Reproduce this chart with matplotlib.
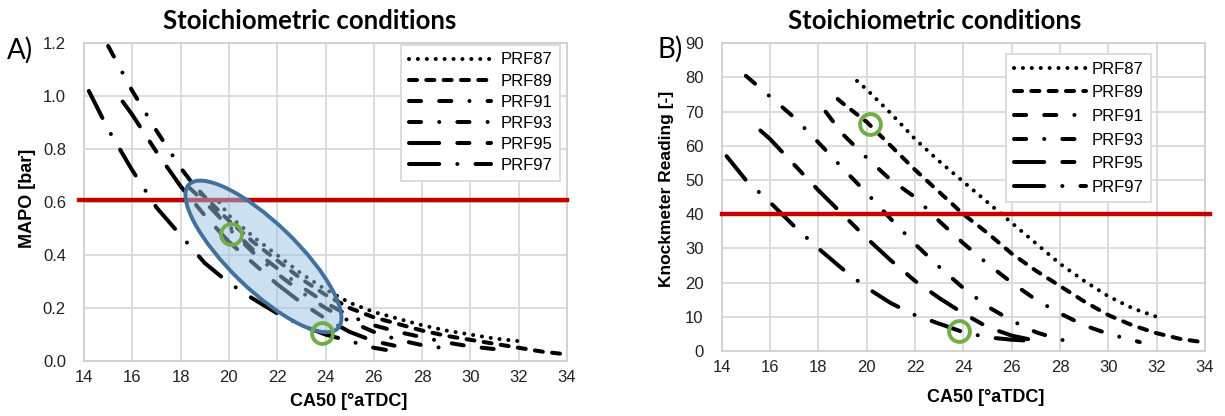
import numpy as np
import matplotlib.pyplot as plt
from matplotlib.patches import Ellipse
from matplotlib.transforms import ScaledTranslation

plt.rcParams['font.family'] = 'Liberation Sans'

W, H = 1225, 416

fuels = ['PRF87', 'PRF89', 'PRF91', 'PRF93', 'PRF95', 'PRF97']

# CA50 sweep per fuel [deg aTDC]
ca50 = {
    'PRF87': [19.6, 20, 21, 22, 23, 24, 25, 26, 27, 28, 29, 30, 31, 32],
    'PRF89': [18.8, 19, 20, 21, 22, 23, 24, 25, 26, 27, 28, 29, 30, 31, 32, 33, 34],
    'PRF91': [18.3, 19, 20, 21, 22, 23, 24, 25, 26, 27, 28, 29, 30, 31, 31.3],
    'PRF93': [15, 16, 17, 18, 19, 20, 21, 22, 23, 24, 25, 26, 27, 28, 28.8],
    'PRF95': [15.6, 16, 17, 18, 19, 20, 21, 22, 23, 24, 25, 26, 27, 27.4],
    'PRF97': [14.2, 15, 16, 17, 18, 19, 20, 21, 22, 23, 24, 25, 26, 26.5],
}

# MAPO [bar]
mapo = {
    'PRF87': [0.60, 0.55, 0.47, 0.40, 0.33, 0.27, 0.22, 0.185, 0.16, 0.135, 0.115, 0.10, 0.085, 0.075],
    'PRF89': [0.64, 0.62, 0.53, 0.45, 0.38, 0.31, 0.25, 0.20, 0.165, 0.14, 0.115, 0.095, 0.08, 0.065, 0.05, 0.035, 0.025],
    'PRF91': [0.66, 0.60, 0.51, 0.42, 0.35, 0.28, 0.22, 0.17, 0.135, 0.11, 0.09, 0.07, 0.055, 0.045, 0.04],
    'PRF93': [1.19, 1.02, 0.87, 0.73, 0.61, 0.50, 0.41, 0.33, 0.26, 0.20, 0.15, 0.11, 0.08, 0.06, 0.05],
    'PRF95': [0.98, 0.93, 0.79, 0.66, 0.55, 0.45, 0.37, 0.29, 0.22, 0.16, 0.11, 0.075, 0.055, 0.05],
    'PRF97': [1.02, 0.875, 0.72, 0.58, 0.475, 0.37, 0.295, 0.235, 0.18, 0.135, 0.10, 0.075, 0.05, 0.042],
}

# Knockmeter reading [-]
knock = {
    'PRF87': [79, 76.5, 69.5, 62, 55.5, 49.5, 43.5, 37.5, 31.5, 25.5, 20.5, 16, 12.5, 10],
    'PRF89': [73.7, 72.5, 67, 60, 53, 46.5, 40, 34.5, 28.5, 23.5, 19, 14.5, 10.5, 7.5, 5.2, 3.5, 2.5],
    'PRF91': [70, 63.5, 56.5, 50, 45, 38, 31.5, 25.5, 20, 15, 11, 7.5, 5, 3.2, 2.6],
    'PRF93': [80.5, 74.4, 68.3, 61, 53.5, 46.2, 38.6, 31.3, 24.6, 18.4, 13, 8.9, 5.5, 3.3, 2.6],
    'PRF95': [64.5, 62, 54.5, 47, 40, 33, 26.5, 20.5, 15.5, 11, 7, 4.5, 3, 2.5],
    'PRF97': [57, 50, 43.5, 36.5, 30, 24, 18.5, 14, 10.5, 8, 5.5, 4, 3.3, 3.1],
}

# dash patterns in units of line width (round caps)
dashes = {
    'PRF87': (0.01, 2.2),
    'PRF89': (2.0, 2.3),
    'PRF91': (3.0, 4.5, 3.0, 4.5, 0.01, 4.5),
    'PRF93': (3.0, 4.5, 0.01, 4.5),
    'PRF95': (7.5, 4.5, 3.0, 4.5),
    'PRF97': (7.5, 4.5, 0.01, 4.5),
}

mapo_limit = [0.61]
knock_limit = [40]

# highlighted operating points
mapo_pts_x = [20.1, 23.84]
mapo_pts_y = [0.48, 0.105]
knock_pts_x = [20.13, 23.84]
knock_pts_y = [66.3, 5.8]

fig = plt.figure(figsize=(W / 100, H / 100), dpi=100)
ax1 = fig.add_axes([84 / W, 1 - 361 / H, 483 / W, 317.7 / H])
ax2 = fig.add_axes([721.7 / W, 1 - 351 / H, 483.3 / W, 307.7 / H])


def style_axes(ax, ylim, yticks, yfmt):
    ax.set_xlim(14, 34)
    ax.set_ylim(*ylim)
    ax.set_xticks(np.arange(14, 35, 2))
    ax.set_yticks(yticks)
    ax.set_yticklabels([yfmt.format(v) for v in yticks])
    ax.grid(True, color='#d9d9d9', lw=1.3)
    ax.set_axisbelow(True)
    for s in ax.spines.values():
        s.set_color('#d0d0d0')
        s.set_linewidth(1.3)
    ax.tick_params(length=0, labelsize=12, labelcolor='#222222', pad=6.5)
    ax.tick_params(axis='y', pad=13)


def draw_curves(ax, ydata):
    for f in fuels:
        ln, = ax.plot(ca50[f], ydata[f], color='black', lw=2.9,
                      dash_capstyle='round', solid_capstyle='round', label=f)
        ln.set_dashes(dashes[f])


style_axes(ax1, (0, 1.2), np.arange(0, 1.21, 0.2), '{:.1f}')
style_axes(ax2, (0, 90), np.arange(0, 91, 10), '{:.0f}')

draw_curves(ax1, mapo)
draw_curves(ax2, knock)

# knock limits
ax1.plot([13.8, 34], mapo_limit * 2, color='#c00000', lw=3.2, clip_on=False, zorder=4)
ax2.plot([14, 34.2], knock_limit * 2, color='#c00000', lw=3.2, clip_on=False, zorder=4)

# region where the fuels behave alike
ell_tr = fig.dpi_scale_trans + ScaledTranslation(21.43, 0.395, ax1.transData)
ax1.add_patch(Ellipse((0, 0), width=2.07, height=0.67, angle=-44, transform=ell_tr,
                      facecolor='#9dc3e6', alpha=0.5, edgecolor='none', zorder=5))
ax1.add_patch(Ellipse((0, 0), width=2.07, height=0.67, angle=-44, transform=ell_tr,
                      facecolor='none', edgecolor='#41719c', lw=2.8, zorder=6))

for ax, px, py in [(ax1, mapo_pts_x, mapo_pts_y), (ax2, knock_pts_x, knock_pts_y)]:
    ax.plot(px, py, 'o', ms=15, mfc='none', mec='#70ad47', mew=2.8, zorder=7, clip_on=False)

leg1 = ax1.legend(loc='upper right', bbox_to_anchor=(0.9855, 0.995), borderaxespad=0,
                  fontsize=12, handlelength=4.9, handletextpad=0.6, labelspacing=0.37,
                  fancybox=False, edgecolor='#d9d9d9', framealpha=1, borderpad=0.45)
leg1.get_frame().set_linewidth(1.3)
leg2 = ax2.legend(loc='upper right', bbox_to_anchor=(0.888, 0.965), borderaxespad=0,
                  fontsize=12, handlelength=4.3, handletextpad=0.35, labelspacing=0.52,
                  fancybox=False, edgecolor='#d9d9d9', framealpha=1, borderpad=0.45)
leg2.get_frame().set_linewidth(1.3)

# titles, axis labels, panel tags
fig.text(310 / W, 1 - 21 / H, 'Stoichiometric conditions', family='Lato', weight='bold',
         fontsize=18.5, ha='center', va='center')
fig.text(935 / W, 1 - 21 / H, 'Stoichiometric conditions', family='Lato', weight='bold',
         fontsize=18.5, ha='center', va='center')
fig.text(349 / W, 1 - 401 / H, 'CA50 [°aTDC]', weight='bold', fontsize=13, ha='center', va='center')
fig.text(986 / W, 1 - 398 / H, 'CA50 [°aTDC]', weight='bold', fontsize=13, ha='center', va='center')
fig.text(27 / W, 1 - 198 / H, 'MAPO [bar]', weight='bold', fontsize=13, ha='center', va='center',
         rotation=90)
fig.text(666 / W, 1 - 189 / H, 'Knockmeter Reading [-]', weight='bold', fontsize=12.5, ha='center',
         va='center', rotation=90)
fig.text(20 / W, 1 - 50 / H, 'A)', family='Lato', fontsize=20, ha='center', va='center')
fig.text(670 / W, 1 - 49 / H, 'B)', family='Lato', fontsize=20, ha='center', va='center')

fig.savefig('out.png', dpi=100)
